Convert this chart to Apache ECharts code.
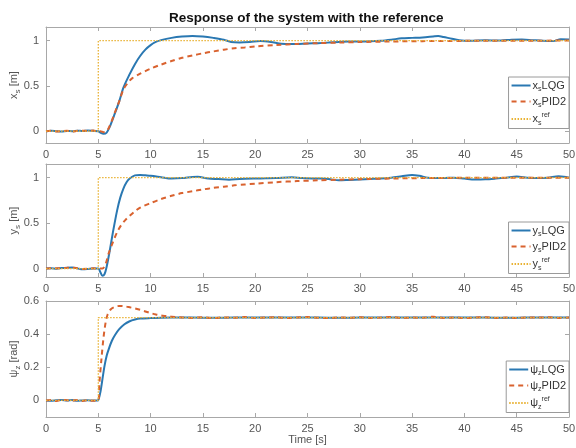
<!DOCTYPE html>
<html><head><meta charset="utf-8">
<script src="https://cdn.jsdelivr.net/npm/echarts@6/dist/echarts.min.js"></script>
<style>html,body{margin:0;padding:0;background:#fff}#c{width:576px;height:448px}</style>
</head><body><div id="c"></div>
<script>
// ---------- data ----------
const xTickValues = [0,5,10,15,20,25,30,35,40,45,50];
const posTicks = [0, 0.5, 1];
const psiTicks = [0, 0.2, 0.4, 0.6];

const refT = [0, 5, 5, 50];
const refPos = [0, 0, 1, 1];
const refPsi = [0, 0, 0.5, 0.5];

// x_s
const xLqgT = [0,0.5,1,1.5,2,2.5,3,3.5,4,4.5,5,5.2,5.5,5.8,6.1,6.5,7,7.4,8,8.5,9,9.5,10,10.5,11,12,13,14,15,16,17,17.7,18.5,19.5,20.5,21.5,22.5,23.5,25,26,27,28,29,30,31,32,33,34,35,36,37,37.5,38,38.8,39.5,40.5,42,43.5,44.5,45.5,46.5,47.5,48.5,49.2,50];
const xLqgV = [0,0.005,0,-0.004,0.003,0,0.006,0.002,0.008,0.004,0,-0.015,-0.028,-0.015,0.05,0.17,0.33,0.48,0.63,0.74,0.83,0.9,0.95,0.985,1.005,1.03,1.045,1.052,1.045,1.03,1.01,0.985,0.98,0.985,0.995,0.985,0.965,0.962,0.968,0.972,0.978,0.985,0.99,0.99,0.992,0.998,1.01,1.025,1.03,1.035,1.045,1.05,1.04,1.02,1.005,0.998,1.003,1.0,1.01,1.012,1.005,0.998,0.995,1.015,1.012];
const xPidT = [0,0.5,1,1.5,2,2.5,3,3.5,4,4.5,5,5.2,5.5,5.8,6.1,6.5,7,7.4,7.8,8.2,9,10,11,12,13,14,15,16,17,18,19,20,22,24,26,28,30,33,36,40,45,50];
const xPidV = [0,0.004,-0.002,0.002,0.005,-0.003,0.004,0.006,0.003,0.007,0,0,-0.01,0,0.06,0.18,0.33,0.46,0.53,0.58,0.635,0.69,0.735,0.775,0.81,0.835,0.86,0.88,0.9,0.915,0.925,0.935,0.952,0.963,0.972,0.978,0.984,0.99,0.994,0.997,0.999,1.0];

// y_s
const yLqgT = [0,0.5,1,1.5,2,2.5,3,3.5,4,4.5,5,5.2,5.4,5.6,5.8,6.1,6.4,6.8,7.1,7.4,7.7,8,8.5,9,9.5,10,11,12,13,14,14.5,15.5,16.5,17.5,18.5,20,21,22,23.5,24.5,26,27,28,29,30,31,32,33,34,35,35.7,36.5,38,39,40,41,42,43,44,45,46,47,48,49,49.5,50];
const yLqgV = [0,0.003,-0.002,0.005,0.01,0.012,0.002,-0.008,-0.005,0,0,-0.04,-0.08,-0.06,0.02,0.2,0.4,0.64,0.78,0.88,0.95,0.99,1.025,1.03,1.025,1.02,1.005,0.99,0.995,1.008,1.01,0.99,0.985,0.978,0.985,0.99,0.992,0.995,1.005,0.995,0.99,0.985,0.97,0.975,0.98,0.985,0.99,1.0,1.015,1.03,1.02,1.0,0.995,1.0,0.99,0.98,0.982,0.99,1.0,1.012,1.0,0.995,1.0,1.015,1.01,1.0];
const yPidT = [0,0.5,1,1.5,2,2.5,3,3.5,4,4.5,5,5.4,5.7,6,6.4,6.8,7.2,7.6,8,8.5,9,10,11,12,13,14,15,16,17,18,19,20,22,24,26,28,30,33,36,40,45,50];
const yPidV = [0,0.004,0.002,0.006,0.008,0.01,0.004,-0.004,-0.003,0.002,0,0,0.05,0.17,0.29,0.4,0.48,0.535,0.58,0.63,0.67,0.72,0.765,0.8,0.83,0.85,0.87,0.887,0.9,0.915,0.925,0.933,0.95,0.962,0.97,0.977,0.983,0.99,0.995,0.998,1.0,1.0];

// psi_z
const pLqgT = [0,0.5,1,1.5,2,2.5,3,3.5,4,4.5,5,5.05,5.2,5.4,5.6,5.8,6,6.3,6.6,7,7.5,8,8.5,9,10,11,12,14,16,18,20,22,24,26,28,30,32,34,36,38,40,42,44,46,48,50];
const pLqgV = [0,-0.002,0.001,0.003,-0.001,0.002,-0.002,0,0.001,-0.001,0,0,0.05,0.13,0.21,0.27,0.31,0.36,0.395,0.43,0.46,0.478,0.488,0.494,0.497,0.499,0.5,0.5,0.499,0.5,0.5,0.501,0.5,0.5,0.499,0.5,0.5,0.5,0.501,0.5,0.5,0.5,0.499,0.5,0.5,0.5];
const pPidT = [0,0.5,1,1.5,2,2.5,3,3.5,4,4.5,5,5.1,5.3,5.5,5.7,5.9,6.2,6.6,7,7.5,8,8.5,9,9.5,10,10.5,11,11.5,12,12.5,13,14,15,16,17,18,19,20,21,22,23,24,25,26,27,28,29,30,31,32,33,34,35,36,37,38,39,40,41,42,43,44,45,46,47,48,49,50];
const pPidV = [0,0.002,-0.003,0.004,0.001,-0.002,0.003,-0.003,0.002,-0.002,0,0.1,0.25,0.38,0.47,0.52,0.55,0.565,0.57,0.568,0.562,0.555,0.547,0.537,0.527,0.519,0.513,0.509,0.505,0.503,0.501,0.498,0.502,0.497,0.501,0.499,0.503,0.498,0.5,0.502,0.497,0.5,0.503,0.499,0.497,0.501,0.499,0.502,0.498,0.5,0.503,0.497,0.5,0.499,0.505,0.498,0.501,0.497,0.5,0.502,0.498,0.5,0.497,0.501,0.5,0.502,0.498,0.5];

// ---------- chart ----------
const zip = (t, v) => t.map((x, i) => [x, v[i]]);
const FONT = 'Liberation Sans';
const BOX = '#a8a8a8';
const LAB = '#555555';
const C_LQG = '#2a78b2', C_PID = '#d9622f', C_REF = '#e9b234';

const gBase = {left: 46, right: 7, containLabel: false, outerBoundsMode: 'none'};
const grids = [
  Object.assign({top: 27, height: 116}, gBase),
  Object.assign({top: 164, height: 113}, gBase),
  Object.assign({top: 301, height: 116}, gBase)
];
const yRanges = [[-0.13, 1.15], [-0.093, 1.15], [-0.1, 0.6]];
const yTickSets = [posTicks, posTicks, psiTicks];

const rich = {
  m: {fontFamily: FONT, fontSize: 11, color: '#333'},
  s: {fontFamily: FONT, fontSize: 7, color: '#333', padding: [8, 0, 0, 0]},
  p: {fontFamily: FONT, fontSize: 7, color: '#333', padding: [0, 0, 7, 0]}
};
const nameRich = {
  m: {fontFamily: FONT, fontSize: 11, color: LAB},
  s: {fontFamily: FONT, fontSize: 8, color: LAB, padding: [8, 0, 0, 0]}
};

const xAxes = [], yAxes = [];
for (let g = 0; g < 3; g++) {
  xAxes.push({
    type: 'value', gridIndex: g, min: 0, max: 50, interval: 5, position: 'bottom',
    axisLine: {show: true, onZero: false, lineStyle: {color: BOX, width: 1}},
    axisTick: {show: true, inside: true, length: 4, lineStyle: {color: BOX}},
    axisLabel: {show: true, color: LAB, fontFamily: FONT, fontSize: 11, margin: 6},
    splitLine: {show: false},
    name: g === 2 ? 'Time [s]' : '', nameLocation: 'middle', nameGap: 17, nameMoveOverlap: false,
    nameTextStyle: {color: LAB, fontFamily: FONT, fontSize: 11}
  });
  xAxes.push({
    type: 'value', gridIndex: g, min: 0, max: 50, interval: 5, position: 'top',
    axisLine: {show: true, onZero: false, lineStyle: {color: BOX, width: 1}},
    axisTick: {show: true, inside: true, length: 4, lineStyle: {color: BOX}},
    axisLabel: {show: false}, splitLine: {show: false}
  });
  const names = ['{m|x}{s|s}{m| [m]}', '{m|y}{s|s}{m| [m]}', '{m|ψ}{s|z}{m| [rad]}'];
  yAxes.push({
    type: 'value', gridIndex: g, min: yRanges[g][0], max: yRanges[g][1], position: 'left',
    axisLine: {show: true, onZero: false, lineStyle: {color: BOX, width: 1}},
    axisTick: {show: true, inside: true, length: 4, lineStyle: {color: BOX}, customValues: yTickSets[g]},
    axisLabel: {show: true, color: LAB, fontFamily: FONT, fontSize: 11, margin: 7, customValues: yTickSets[g]},
    splitLine: {show: false},
    name: names[g], nameLocation: 'middle', nameGap: 24, nameRotate: 90, nameMoveOverlap: false,
    nameTextStyle: {rich: nameRich}
  });
  yAxes.push({
    type: 'value', gridIndex: g, min: yRanges[g][0], max: yRanges[g][1], position: 'right',
    axisLine: {show: true, onZero: false, lineStyle: {color: BOX, width: 1}},
    axisTick: {show: true, inside: true, length: 4, lineStyle: {color: BOX}, customValues: yTickSets[g]},
    axisLabel: {show: false}, splitLine: {show: false}
  });
}

const mk = (name, g, data, color, type, width) => ({
  name, type: 'line', xAxisIndex: 2 * g, yAxisIndex: 2 * g, data,
  showSymbol: false, symbol: 'none', smooth: 0.3, animation: false,
  lineStyle: {color, type, width}, itemStyle: {color}
});

const series = [
  mk('xLQG', 0, zip(xLqgT, xLqgV), C_LQG, 'solid', 2),
  mk('xPID2', 0, zip(xPidT, xPidV), C_PID, [5, 4], 2),
  Object.assign(mk('xref', 0, zip(refT, refPos), C_REF, [1.5, 1.5], 1.3), {smooth: false}),
  mk('yLQG', 1, zip(yLqgT, yLqgV), C_LQG, 'solid', 2),
  mk('yPID2', 1, zip(yPidT, yPidV), C_PID, [5, 4], 2),
  Object.assign(mk('yref', 1, zip(refT, refPos), C_REF, [1.5, 1.5], 1.3), {smooth: false}),
  mk('pLQG', 2, zip(pLqgT, pLqgV), C_LQG, 'solid', 2),
  mk('pPID2', 2, zip(pPidT, pPidV), C_PID, [5, 4], 2),
  Object.assign(mk('pref', 2, zip(refT, refPsi), C_REF, [1.5, 1.5], 1.3), {smooth: false})
];

const labelMap = {
  xLQG: '{m|x}{s|s}{m|LQG}', xPID2: '{m|x}{s|s}{m|PID2}', xref: '{m|x}{s|s}{p|ref}',
  yLQG: '{m|y}{s|s}{m|LQG}', yPID2: '{m|y}{s|s}{m|PID2}', yref: '{m|y}{s|s}{p|ref}',
  pLQG: '{m|ψ}{s|z}{m|LQG}', pPID2: '{m|ψ}{s|z}{m|PID2}', pref: '{m|ψ}{s|z}{p|ref}'
};
const legendTops = [77, 222, 361];
const legendPrefix = ['x', 'y', 'p'];
const legends = legendTops.map((top, g) => ({
  data: [legendPrefix[g] + 'LQG', legendPrefix[g] + 'PID2', legendPrefix[g] + 'ref'],
  orient: 'vertical', right: 7, top,
  padding: [3, 3, 2, 2], itemGap: 3, itemWidth: 19, itemHeight: 12,
  backgroundColor: '#fff', borderColor: '#9a9a9a', borderWidth: 1, borderRadius: 0,
  selectedMode: false,
  itemStyle: {opacity: 0, color: 'rgba(0,0,0,0)', borderWidth: 0, borderColor: 'rgba(0,0,0,0)'},
  formatter: n => labelMap[n],
  textStyle: {rich, padding: [0, 0, 0, -3]}
}));

const chart = echarts.init(document.getElementById('c'), null, {renderer: 'canvas'});
chart.setOption({
  backgroundColor: '#fff',
  animation: false,
  title: {
    text: 'Response of the system with the reference', left: 164, top: 6,
    textStyle: {fontFamily: FONT, fontSize: 13.5, fontWeight: 'bold', color: '#111'}
  },
  grid: grids,
  xAxis: xAxes,
  yAxis: yAxes,
  legend: legends,
  series
});
</script></body></html>
